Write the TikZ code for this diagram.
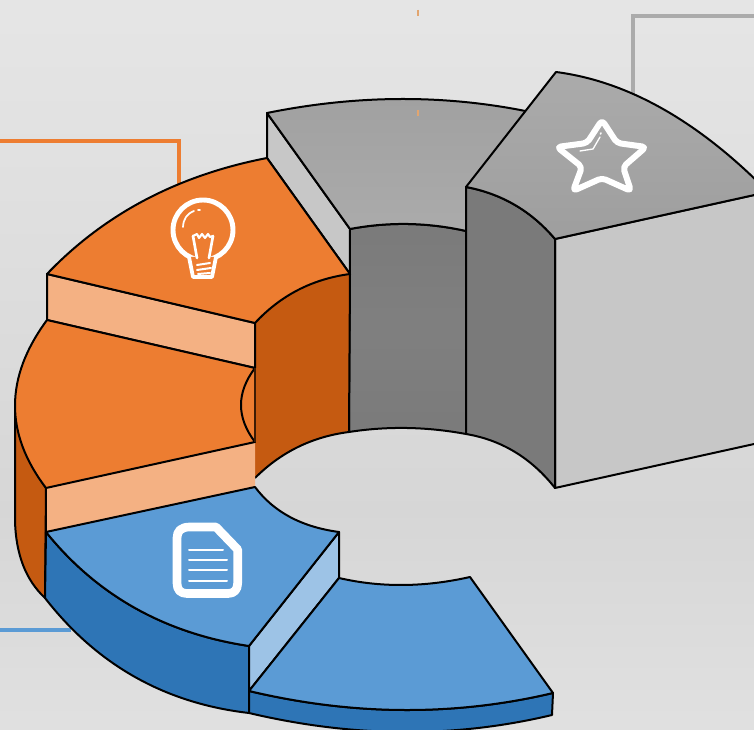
\documentclass[tikz,border=0pt]{standalone}
\begin{document}
\def\thr#1#2#3#4#5#6{.. controls ({4/3*#3-#5/3},{4/3*#4-#6/3}) and ({4/3*#3-#1/3},{4/3*#4-#2/3}) .. (#5,#6)}
\definecolor{org}{HTML}{ED7D31}
\definecolor{orgd}{HTML}{C55A11}
\definecolor{orgl}{HTML}{F4B183}
\definecolor{blu}{HTML}{5B9BD5}
\definecolor{blud}{HTML}{2E75B6}
\definecolor{blul}{HTML}{9DC3E6}
\definecolor{tick}{HTML}{E2A56F}
\pgfdeclareverticalshading{pagebg}{100bp}{color(0bp)=(black!12); color(25bp)=(black!12); color(40bp)=(black!16); color(75bp)=(black!10); color(100bp)=(black!10)}
\tikzset{
  edge/.style={draw=black,line width=1.5,line join=round},
  icon/.style={draw=white,line join=round,line cap=round},
  frameline/.style={line width=3.6,line join=miter}
}
\begin{tikzpicture}[x=0.75pt,y=-0.75pt]
\useasboundingbox (0,0) rectangle (754,730);
\clip (0,0) rectangle (754,730);
\shade[shading=pagebg] (0,0) rectangle (754,730);
% frames behind the rings
\draw[frameline,draw=org] (0,141) -- (179,141) -- (179,190);
\draw[frameline,draw=black!33] (633,100) -- (633,16) -- (760,16);
\draw[frameline,draw=blu] (0,630) -- (71,630);
\draw[draw=tick,line width=1.4] (418,10) -- (418,16);
% back grey segment
\draw[edge,fill=black!22] (267,113) -- (350,229) -- (350,274) -- (267,158) -- cycle;
\draw[edge,top color=black!52,bottom color=black!52,middle color=black!50] (350,229) \thr{350}{229}{408}{224}{466}{231} -- (466,434) \thr{466}{434}{407}{428}{349}{432} -- cycle;
\draw[edge,top color=black!37,bottom color=black!33] (267,113) \thr{267}{113}{403}{99}{535}{113} -- (466,231) \thr{466}{231}{408}{224}{350}{229} -- cycle;
\draw[draw=tick,line width=1.4] (418,110) -- (418,116);
% right grey segment
\draw[edge,fill=black!22] (555,239) -- (770,191.5) -- (770,440.5) -- (555,488) -- cycle;
\draw[edge,fill=black!52] (466,187) \thr{466}{187}{515}{205}{555}{239} -- (555,488) \thr{555}{488}{515}{452}{466}{434} -- cycle;
\draw[edge,top color=black!33,bottom color=black!38] (556,72) \thr{556}{72}{663}{109}{768}{192} -- (555,239) \thr{555}{239}{515}{205}{466}{187} -- cycle;
% upper orange segment
\fill[orgd] (255,323) \thr{255}{323}{298}{290}{350}{274} -- (349,432) \thr{349}{432}{298}{447}{255}{478} -- cycle;
\draw[edge] (255,323) -- (255,368);
\draw[edge] (350,274) -- (349,432) \thr{349}{432}{298}{447}{255}{478};
\draw[edge,fill=orgl] (47,274) -- (255,323) -- (255,368) -- (47,320) -- cycle;
\draw[edge,fill=org] (47,274) \thr{47}{274}{145}{200}{267}{158} -- (350,274) \thr{350}{274}{298}{290}{255}{323} -- cycle;
% lower orange segment
\fill[orgl] (46,488) -- (255,442) -- (255,487) -- (46,532) -- cycle;
\draw[edge,fill=orgd] (15,405) \thr{15}{405}{26}{450}{46}{488} -- (45,598) \thr{45}{598}{23}{565}{15}{520} -- cycle;
\fill[org] (255,368) \thr{255}{368}{241}{405}{255}{442} -- cycle;
\draw[edge,fill=org] (47,320) -- (255,368) \thr{255}{368}{241}{405}{255}{442} -- (46,488) \thr{46}{488}{15}{405}{47}{320} -- cycle;
\draw[line width=0.8,draw=black!70!orgd] (255,368) -- (255,442);
\draw[edge] (46,488) -- (46,532);
% blue segments
\draw[edge,fill=blud] (46,532) \thr{46}{532}{135}{608}{249}{646} -- (249,713) \thr{249}{713}{135}{677}{45}{598} -- cycle;
\draw[edge,fill=blul] (339,532) -- (339,578) -- (249,691) -- (249,646) -- cycle;
\draw[edge,fill=blu] (46,532) -- (255,487) \thr{255}{487}{290}{517}{339}{532} -- (249,646) \thr{249}{646}{135}{608}{46}{532} -- cycle;
\draw[edge,fill=blud] (249,691) \thr{249}{691}{403}{710}{553}{693} -- (552,715) \thr{552}{715}{403}{732}{249}{713} -- cycle;
\draw[edge,fill=blu] (249,691) -- (339,578) \thr{339}{578}{403}{585}{470}{577} -- (553,693) \thr{553}{693}{403}{710}{249}{691} -- cycle;
% bulb icon
\draw[icon,line width=3.7] (203,230) circle[x radius=30,y radius=30];
\draw[icon,line width=2.8,fill=org] (189,257) -- (193,277) -- (212,277) -- (216,257);
\draw[icon,line width=2] (193,236) -- (197,258) (213,236) -- (209,258);
\draw[icon,line width=1.6] (193,236) -- (197,234) -- (199,238) -- (202,234) -- (205,238) -- (208,234) -- (210,237) -- (213,236);
\draw[icon,line width=1.5] (197,265) -- (210,263) (197,270) -- (211,268) (198,274) -- (210,273);
\draw[icon,line width=1.3] (183,227) \thr{183}{227}{186}{217}{194}{211};
\draw[icon,line width=1.3] (198,210) -- (200,210);
% star icon
\draw[icon,line width=4.5,rounded corners=3] (602,120) -- (617,143) -- (646,147) -- (623,167) -- (631,191) -- (602,178) -- (573,191) -- (582,167) -- (557,147) -- (587,143) -- cycle;
\draw[icon,line width=1] (580,151) -- (593,149) -- (600,137);
\draw[icon,line width=1.2] (600.5,134) -- (601,133);
% document icon
\draw[icon,line width=6.5,fill=blu] (190,527) -- (216,527) -- (237.7,549.5) -- (237.7,583) .. controls (237.7,590) and (234,593.5) .. (228,593.5) -- (187,593.5) .. controls (180.5,593.5) and (177,590) .. (177,583) -- (177,538) .. controls (177,531) and (181,527) .. (190,527) -- cycle;
\draw[icon,line width=1.5] (189,550) -- (223,550) (189,559.7) -- (227,559.7) (189,570) -- (227,570) (189,581) -- (227,581);
\end{tikzpicture}
\end{document}
